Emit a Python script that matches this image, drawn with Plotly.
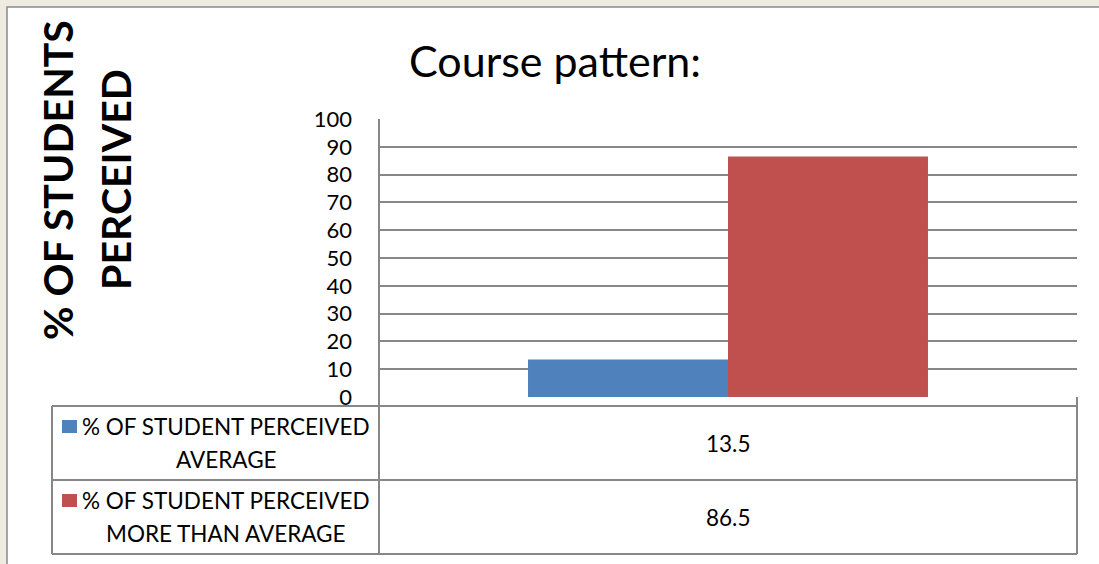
import plotly.graph_objects as go

# ---- data ----
categories = ["Course pattern"]
series_names = ["% OF STUDENT PERCEIVED AVERAGE", "% OF STUDENT PERCEIVED MORE THAN AVERAGE"]
series_label_lines = [["% OF STUDENT PERCEIVED", "AVERAGE"],
                      ["% OF STUDENT PERCEIVED", "MORE THAN AVERAGE"]]
series_values = [[13.5], [86.5]]
series_colors = ["#4F81BD", "#C0504D"]
y_ticks = [0, 10, 20, 30, 40, 50, 60, 70, 80, 90, 100]
title_text = "Course pattern:"
y_title_lines = ["% OF STUDENTS", "PERCEIVED"]

W, H = 1099, 564
L, R, T, B = 379, 1077, 119, 397
FONT = "Lato"
GRID = "#878787"
BG = "#EEEBE0"

def px(x):
    return (x - L) / (R - L)

def py(y):
    return (B - y) / (B - T)

fig = go.Figure()
for name, vals, col in zip(series_names, series_values, series_colors):
    fig.add_trace(go.Bar(x=categories, y=vals, name=name, marker=dict(color=col, line=dict(width=0))))

shapes = []
# white panel
shapes.append(dict(type="rect", xref="paper", yref="paper", x0=px(7), x1=px(1115), y0=py(7), y1=py(590),
                   fillcolor="white", line=dict(color="#8a8a8a", width=1.5), layer="below"))

def hline(y, x0, x1):
    shapes.append(dict(type="line", xref="paper", yref="paper", x0=px(x0), x1=px(x1), y0=py(y), y1=py(y),
                       line=dict(color=GRID, width=2)))

def vline(x, y0, y1):
    shapes.append(dict(type="line", xref="paper", yref="paper", x0=px(x), x1=px(x), y0=py(y0), y1=py(y1),
                       line=dict(color=GRID, width=2)))

# data table grid
row_tops = [406, 480, 554]
for y in row_tops:
    hline(y, 52, 1077)
vline(52, 406, 554)
vline(379, 119, 554)
vline(1077, 397, 554)

annotations = []
row_centers = [443, 517]
label_center_x = 226
for i, (lines, vals, col) in enumerate(zip(series_label_lines, series_values, series_colors)):
    yc = row_centers[i]
    # legend key
    shapes.append(dict(type="rect", xref="paper", yref="paper", x0=px(62), x1=px(77),
                       y0=py(yc - 23), y1=py(yc - 10), fillcolor=col, line=dict(width=0)))
    annotations.append(dict(xref="paper", yref="paper", x=px(label_center_x), y=py(yc - 17),
                            text=lines[0], showarrow=False, xanchor="center", yanchor="middle",
                            font=dict(family=FONT, size=22.5, color="black")))
    annotations.append(dict(xref="paper", yref="paper", x=px(label_center_x), y=py(yc + 16),
                            text=lines[1], showarrow=False, xanchor="center", yanchor="middle",
                            font=dict(family=FONT, size=22.5, color="black")))
    annotations.append(dict(xref="paper", yref="paper", x=0.5, y=py(yc),
                            text=str(vals[0]), showarrow=False, xanchor="center", yanchor="middle",
                            font=dict(family=FONT, size=22.5, color="black")))

# title
annotations.append(dict(xref="paper", yref="paper", x=px(555), y=py(60), text=title_text,
                        showarrow=False, xanchor="center", yanchor="middle",
                        font=dict(family=FONT, size=43, color="black")))
# y-axis title (two lines)
for xc, line in zip([57, 115], y_title_lines):
    annotations.append(dict(xref="paper", yref="paper", x=px(xc), y=py(180), text="<b>%s</b>" % line,
                            showarrow=False, textangle=-90, xanchor="center", yanchor="middle",
                            font=dict(family=FONT, size=41, color="black")))

fig.update_layout(
    width=W, height=H,
    margin=dict(l=L, r=W - R, t=T, b=H - B, pad=0),
    paper_bgcolor=BG,
    plot_bgcolor="white",
    barmode="group", bargap=0.427, bargroupgap=0,
    showlegend=False,
    shapes=shapes,
    annotations=annotations,
    xaxis=dict(showticklabels=False, showgrid=False, zeroline=False, showline=False, ticks=""),
    yaxis=dict(range=[0, 100], tickvals=y_ticks, showgrid=True, gridcolor=GRID, gridwidth=2,
               zeroline=False, showline=False, ticks="", ticklabelstandoff=26,
               tickfont=dict(family=FONT, size=22, color="black")),
)

fig.write_html("out.html", config={"displayModeBar": False},
               post_script="document.body.style.margin='0';document.body.style.background='%s';" % BG)
